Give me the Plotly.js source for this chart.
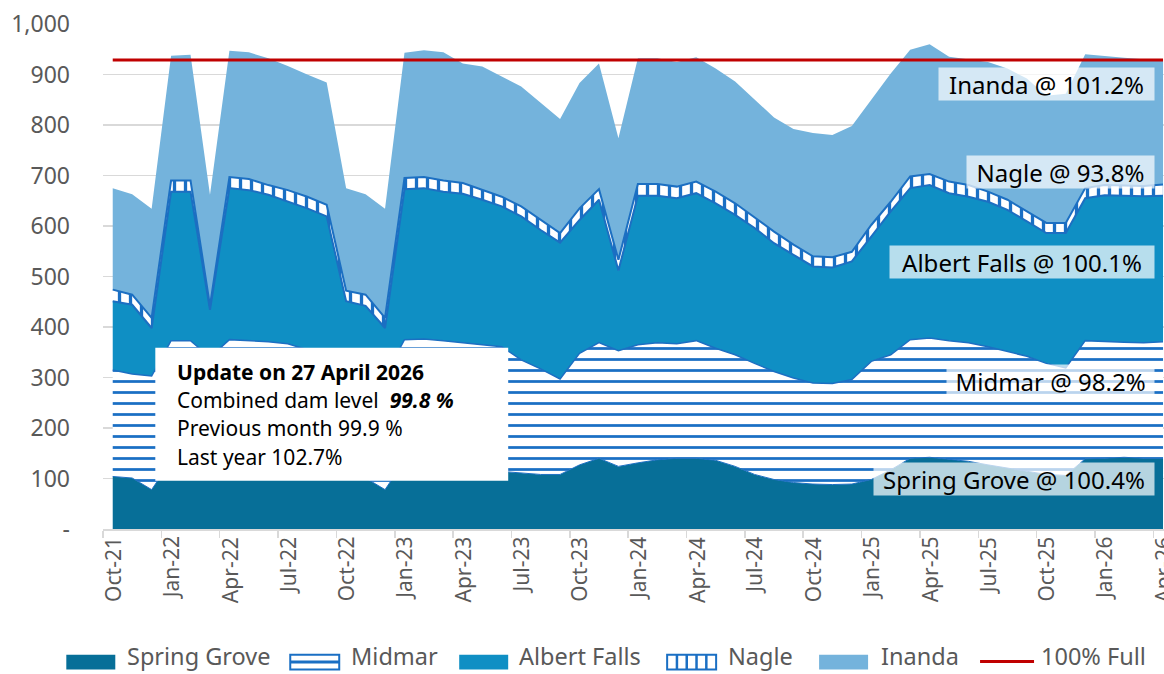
<!DOCTYPE html>
<html><head><meta charset="utf-8">
<script src="https://cdn.plot.ly/plotly-3.0.1.min.js"></script>
<style>html,body{margin:0;padding:0;background:#fff}#chart{width:1164px;height:674px}</style>
</head><body><div id="chart"></div>
<script>
const months = ["Oct-21","Nov-21","Dec-21","Jan-22","Feb-22","Mar-22","Apr-22","May-22","Jun-22","Jul-22","Aug-22","Sep-22",
"Oct-22","Nov-22","Dec-22","Jan-23","Feb-23","Mar-23","Apr-23","May-23","Jun-23","Jul-23","Aug-23","Sep-23",
"Oct-23","Nov-23","Dec-23","Jan-24","Feb-24","Mar-24","Apr-24","May-24","Jun-24","Jul-24","Aug-24","Sep-24",
"Oct-24","Nov-24","Dec-24","Jan-25","Feb-25","Mar-25","Apr-25","May-25","Jun-25","Jul-25","Aug-25","Sep-25",
"Oct-25","Nov-25","Dec-25","Jan-26","Feb-26","Mar-26","Apr-26"];
const xTickLabels = ["Oct-21","Jan-22","Apr-22","Jul-22","Oct-22","Jan-23","Apr-23","Jul-23","Oct-23","Jan-24","Apr-24","Jul-24",
"Oct-24","Jan-25","Apr-25","Jul-25","Oct-25","Jan-26","Apr-26"];

const springGrove = [104,101,78,135,138,125,140,139,137,133,128,122,104,101,78,135,138,135,128,120,114,111,108,108,127,140,124,131,137,140,140,136,124,108,98,92,89,88,89,98,117,140,142,138,134,127,121,114,108,106,139,140,142,140,140];
const midmar = [211,206,225,238,235,215,235,234,234,234,227,230,211,206,225,240,238,238,241,245,247,224,209,189,221,229,229,234,232,227,233,222,221,220,214,207,200,200,207,234,228,235,236,235,235,234,231,228,220,213,234,231,228,229,231];
const albertFalls = [136,137,95,295,295,94,300,298,291,281,280,267,136,135,95,298,299,295,295,287,278,284,275,270,264,283,159,295,291,288,292,287,277,268,254,244,231,230,234,247,284,300,303,292,289,287,280,267,258,267,282,290,290,290,289];
const nagle = [23,20,20,22,22,8,22,22,19,23,23,23,21,22,20,22,22,22,21,19,19,20,21,19,23,21,21,23,23,23,23,23,23,21,23,20,20,20,19,23,19,23,22,23,23,20,20,20,20,20,20,20,20,20,22];
const inanda = [201,199,216,247,249,220,250,251,251,246,242,242,203,199,216,248,251,254,237,245,238,237,231,226,248,249,241,249,249,247,246,244,241,233,226,229,244,242,249,248,254,251,257,247,249,257,260,263,252,256,265,255,253,251,245];
const fullLevel = 928.7;

const yTickVals = [0,100,200,300,400,500,600,700,800,900,1000];
const yTickText = ["-","100","200","300","400","500","600","700","800","900","1,000"];

const damLabels = ["Inanda @ 101.2%","Nagle @ 93.8%","Albert Falls @ 100.1%","Midmar @ 98.2%","Spring Grove @ 100.4%"];
const damLabelY = [881, 707, 529, 294, 100];
const damLabelW = [215, 187, 264, 207, 280];

const infoLines = ["<b>Update on 27 April 2026</b>","Combined dam level  <b><i>99.8 %</i></b>","Previous month 99.9 %","Last year 102.7%"];
const infoLineY = [311, 255, 201, 142];

const legendNames = ["Spring Grove","Midmar","Albert Falls","Nagle","Inanda","100% Full"];
const legendSwatchX = [66, 290, 459, 667, 819, 980];
const legendTextX = [126, 350, 518, 727, 880, 1040];

const SG_COLOR = "#076f98", AF_COLOR = "#0f8fc4", IN_COLOR = "#74b3dc", PAT_COLOR = "#1a6fc4", RED = "#c00000";
const outline = "#1c6fc2";

const traces = [
  {name:"Spring Grove", x:months, y:springGrove, type:"scatter", mode:"lines", stackgroup:"dams",
   line:{color:outline, width:1}, fillcolor:SG_COLOR},
  {name:"Midmar", x:months, y:midmar, type:"scatter", mode:"lines", stackgroup:"dams",
   line:{color:outline, width:1.5}, fillcolor:"#ffffff",
   fillpattern:{shape:"-", bgcolor:"#ffffff", fgcolor:PAT_COLOR, size:11, solidity:0.25}},
  {name:"Albert Falls", x:months, y:albertFalls, type:"scatter", mode:"lines", stackgroup:"dams",
   line:{color:outline, width:2}, fillcolor:AF_COLOR},
  {name:"Nagle", x:months, y:nagle, type:"scatter", mode:"lines", stackgroup:"dams",
   line:{color:outline, width:2}, fillcolor:"#ffffff",
   fillpattern:{shape:"|", bgcolor:"#ffffff", fgcolor:PAT_COLOR, size:11, solidity:0.3}},
  {name:"Inanda", x:months, y:inanda, type:"scatter", mode:"lines", stackgroup:"dams",
   line:{color:IN_COLOR, width:0}, fillcolor:IN_COLOR},
  {name:"100% Full", x:months, y:months.map(() => fullLevel), type:"scatter", mode:"lines",
   line:{color:RED, width:3}}
];

// layout helpers: pixel -> paper coordinates (plot area 102.7..1164 x, 24..529.3 y)
const PL = 102.7, PW = 1061.3, PB = 529.3, PH = 505.3;
const px = v => (v - PL) / PW;
const py = v => (PB - v) / PH;

const annotations = damLabels.map((t, i) => ({
  text:t, xref:"paper", x:0.9915, xanchor:"right", yref:"y", y:damLabelY[i], yanchor:"middle",
  showarrow:false, bgcolor:"rgba(255,255,255,0.7)", width:damLabelW[i], height:32, borderpad:0,
  align:"center", font:{family:"Noto Sans", size:24, color:"#000"}
})).concat(infoLines.map((t, i) => ({
  text:t, xref:"paper", x:0.0681, xanchor:"left", yref:"y", y:infoLineY[i], yanchor:"middle",
  showarrow:false, align:"left", font:{family:"Noto Sans", size:21, color:"#000"}
}))).concat(legendNames.map((t, i) => ({
  text:t, xref:"paper", x:px(legendTextX[i]), xanchor:"left", yref:"paper", y:py(673.5), yanchor:"bottom",
  showarrow:false, align:"left", borderpad:0, font:{family:"Noto Sans", size:23.5, color:"#595959"}
}))).concat(xTickLabels.map(t => ({
  text:t, xref:"x", x:t, yref:"paper", y:py(535), xanchor:"center", yanchor:"top", textangle:-90,
  showarrow:false, font:{family:"Noto Sans", size:21, color:"#595959"}
})));

const shapes = [{type:"rect", xref:"paper", yref:"y", x0:0.0493, x1:0.3819, y0:95.6, y1:358.8,
  fillcolor:"#ffffff", line:{width:0}, layer:"above"}];
// legend swatches
const sy0 = py(670), sy1 = py(655), swW = 49;
const rect = (x, fill, lc) => ({type:"rect", xref:"paper", yref:"paper", x0:px(x), x1:px(x + swW), y0:sy0, y1:sy1,
  fillcolor:fill, line:{width:lc ? 2 : 0, color:lc || fill}, layer:"above"});
shapes.push(rect(legendSwatchX[0], SG_COLOR));
shapes.push(rect(legendSwatchX[1], "#ffffff", PAT_COLOR));
shapes.push({type:"line", xref:"paper", yref:"paper", x0:px(legendSwatchX[1]), x1:px(legendSwatchX[1] + swW),
  y0:py(662.5), y1:py(662.5), line:{color:PAT_COLOR, width:3}, layer:"above"});
shapes.push(rect(legendSwatchX[2], AF_COLOR));
shapes.push(rect(legendSwatchX[3], "#ffffff", PAT_COLOR));
for (let k = 1; k < 5; k++) {
  const lx = legendSwatchX[3] + k * swW / 5;
  shapes.push({type:"line", xref:"paper", yref:"paper", x0:px(lx), x1:px(lx), y0:sy0, y1:sy1,
    line:{color:PAT_COLOR, width:2.5}, layer:"above"});
}
shapes.push(rect(legendSwatchX[4], IN_COLOR));
shapes.push({type:"line", xref:"paper", yref:"paper", x0:px(legendSwatchX[5]), x1:px(legendSwatchX[5] + 54),
  y0:py(662), y1:py(662), line:{color:RED, width:3}, layer:"above"});

const layout = {
  width:1164, height:674,
  margin:{l:PL, r:0, t:24, b:674 - PB},
  paper_bgcolor:"#fff", plot_bgcolor:"#fff",
  showlegend:false,
  xaxis:{type:"category", range:[-0.5, 54.05], tickmode:"linear", tick0:0, dtick:3, tickson:"boundaries",
    ticks:"outside", ticklen:7, tickcolor:"#d9d9d9", tickwidth:1.5, showticklabels:false,
    showgrid:false, showline:true, linecolor:"#d9d9d9", linewidth:1.5, zeroline:false},
  yaxis:{range:[0,1000], tickmode:"array", tickvals:yTickVals, ticktext:yTickText,
    tickfont:{family:"Noto Sans", size:23, color:"#595959"}, ticklabelstandoff:32,
    showgrid:true, gridcolor:"#d9d9d9", gridwidth:1.5, zeroline:false, showline:false},
  shapes:shapes,
  annotations:annotations
};

Plotly.newPlot("chart", traces, layout, {staticPlot:true, displayModeBar:false});
</script></body></html>
